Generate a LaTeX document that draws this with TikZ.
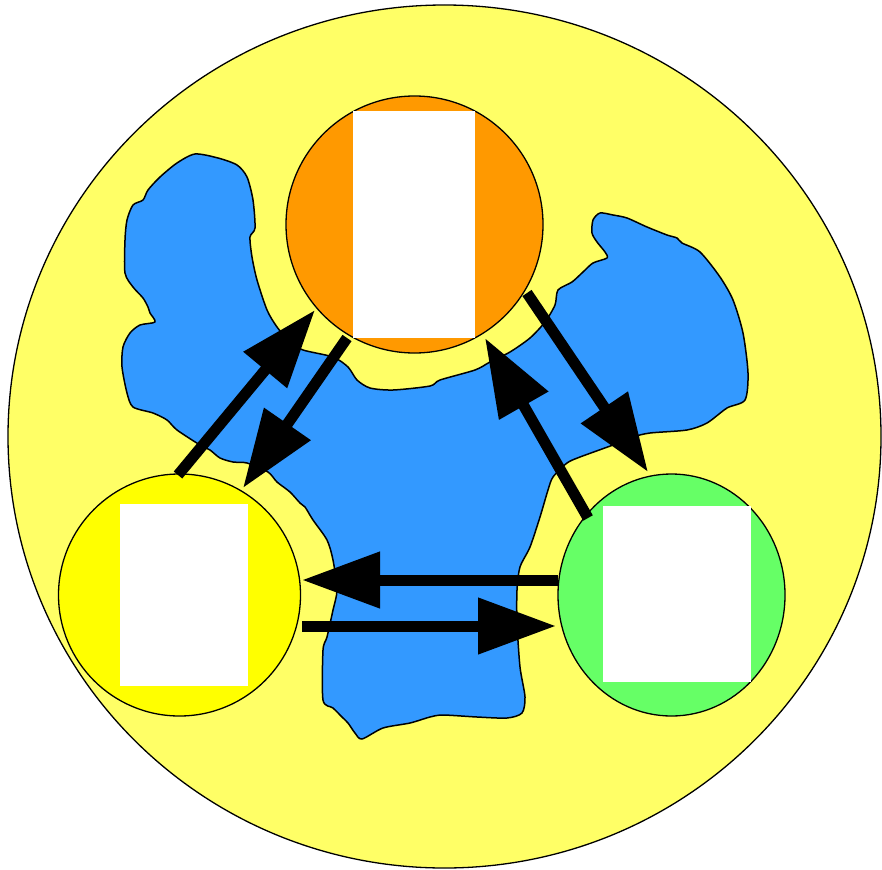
\documentclass[tikz,border=0pt]{standalone}
\usetikzlibrary{arrows.meta,shapes.geometric}
\definecolor{bgyellow}{HTML}{FFFF66}
\definecolor{blobblue}{HTML}{3399FF}
\definecolor{orng}{HTML}{FF9900}
\definecolor{yel}{HTML}{FFFF00}
\definecolor{grn}{HTML}{66FF66}
\tikzset{
  disc/.style={draw=black, line width=1.3pt, inner sep=0pt},
  card/.style={fill=white, draw=none},
  arr/.style={line width=11pt, -{Triangle[length=78pt,width=54pt]}},
}
\begin{document}
\begin{tikzpicture}[x=1pt,y=-1pt]
\useasboundingbox (0,0) rectangle (882,869);
% outer disc
\node[disc, ellipse, fill=bgyellow, minimum width=873pt, minimum height=863pt] (world) at (444.5,436.5) {};
% blue blob
\draw[line width=1.5pt, fill=blobblue, line join=round]
 plot[smooth cycle, tension=0.45] coordinates {
 (195,154) (218,158) (237,165) (247,177) (253,200) (255,228) (250,237) (252,257) (257,280) (267,310) (277,327) (290,342) (303,350) (333,357) (348,367) (357,380) (370,388) (393,390) (430,386) (440,380) (475,370) (490,362) (510,352) (530,338) (545,322) (555,305) (558,290) (572,282) (583,272) (593,263) (607,258) (605,252) (597,242) (592,233) (593,220) (600,213) (613,215) (627,218) (647,227) (667,235) (677,238) (682,243) (700,252) (720,277) (733,300) (743,333) (748,373) (745,400) (727,408) (707,423) (687,430) (650,433) (633,437) (613,445) (580,457) (567,463) (553,477) (548,490) (540,517) (530,547) (520,567) (517,590) (517,623) (520,667) (525,697) (522,713) (507,718) (477,717) (443,715) (430,717) (410,723) (383,728) (362,739) (355,733) (348,723) (342,717) (333,708) (323,700) (323,650) (327,637) (333,610) (337,590) (333,560) (327,540) (313,520) (305,507) (300,503) (290,492) (277,482) (268,472) (247,463) (233,462) (220,458) (210,450) (200,445) (177,430) (167,420) (153,413) (133,407) (127,393) (122,367) (123,347) (130,333) (140,325) (155,322) (150,313) (148,307) (143,298) (133,287) (125,273) (125,240) (127,220) (133,205) (143,200) (148,190) (160,177) (177,163)};
% three discs
\node[disc, circle, fill=orng, minimum size=257pt] (top) at (414.5,224.5) {};
\node[disc, circle, fill=yel, minimum size=242pt] (left) at (179.5,595) {};
\node[disc, ellipse, fill=grn, minimum width=227pt, minimum height=242pt] (right) at (671.5,595) {};
% white cards
\fill[card] (353,111) rectangle (475,338);
\fill[card] (120,504) rectangle (248,686);
\fill[card] (603,506) rectangle (751,682);
% arrow end points
\coordinate (a1s) at (178,475);  \coordinate (a1e) at (315,310);
\coordinate (a2s) at (347,338);  \coordinate (a2e) at (243,488);
\coordinate (a3s) at (527,293);  \coordinate (a3e) at (648,472);
\coordinate (a4s) at (588,518);  \coordinate (a4e) at (485,338);
\coordinate (a5s) at (558,580);  \coordinate (a5e) at (302,580);
\coordinate (a6s) at (302,626);  \coordinate (a6e) at (556,626);
\draw[arr] (a1s) -- (a1e);
\draw[arr] (a2s) -- (a2e);
\draw[arr] (a3s) -- (a3e);
\draw[arr] (a4s) -- (a4e);
\draw[arr] (a5s) -- (a5e);
\draw[arr] (a6s) -- (a6e);
\end{tikzpicture}
\end{document}
